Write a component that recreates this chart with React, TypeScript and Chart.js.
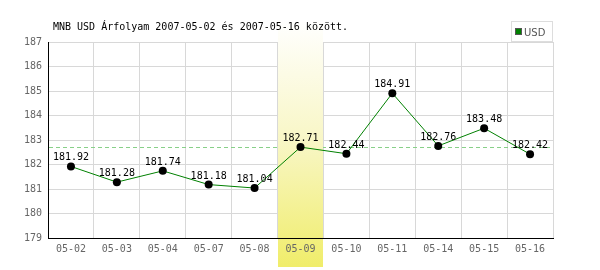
import React, { useEffect, useRef } from "react";
import { Chart, registerables } from "chart.js";

Chart.register(...registerables);

const categories = ["05-02", "05-03", "05-04", "05-07", "05-08", "05-09", "05-10", "05-11", "05-14", "05-15", "05-16"];
const usdValues = [181.92, 181.28, 181.74, 181.18, 181.04, 182.71, 182.44, 184.91, 182.76, 183.48, 182.42];
const highlightIndex = 5;
const yMin = 179;
const yMax = 187;
const titleText = "MNB USD Árfolyam 2007-05-02 és 2007-05-16 között.";
const seriesName = "USD";

const MONO = "'DejaVu Sans Mono', monospace";

const overlayPlugin = {
  id: "overlay",
  beforeDatasetsDraw(chart: any) {
    const { ctx, chartArea, scales } = chart;
    const x = scales.x;
    const y = scales.y;
    ctx.save();
    // reference dashed line
    const ry = Math.round(y.getPixelForValue(usdValues[highlightIndex])) + 0.5;
    ctx.strokeStyle = "#88d088";
    ctx.lineWidth = 1;
    ctx.setLineDash([4, 3]);
    ctx.beginPath();
    ctx.moveTo(chartArea.left + 1, ry);
    ctx.lineTo(chartArea.right, ry);
    ctx.stroke();
    ctx.setLineDash([]);
    // highlight band
    const cx = x.getPixelForValue(highlightIndex);
    const half = (chartArea.right - chartArea.left) / categories.length / 2;
    const x0 = Math.floor(cx - half) + 1;
    const x1 = Math.floor(cx + half);
    const top = 20;
    const bottom = 267;
    const g = ctx.createLinearGradient(0, top, 0, bottom);
    g.addColorStop(0, "#ffffff");
    g.addColorStop(0.5, "#f8f6c4");
    g.addColorStop(1, "#f0ed6a");
    ctx.fillStyle = g;
    ctx.fillRect(x0, top, x1 - x0, bottom - top);
    ctx.restore();
  },
  afterDatasetsDraw(chart: any) {
    const { ctx } = chart;
    const meta = chart.getDatasetMeta(0);
    ctx.save();
    ctx.font = "10px " + MONO;
    ctx.fillStyle = "#000000";
    ctx.textAlign = "center";
    ctx.textBaseline = "alphabetic";
    meta.data.forEach((pt: any, i: number) => {
      ctx.fillText(usdValues[i].toFixed(2), pt.x, pt.y - 6);
    });
    ctx.restore();
  },
  afterDraw(chart: any) {
    const { ctx } = chart;
    ctx.save();
    // title
    ctx.font = "10px " + MONO;
    ctx.fillStyle = "#000000";
    ctx.textAlign = "left";
    ctx.textBaseline = "alphabetic";
    ctx.fillText(titleText, 53, 30);
    // legend
    ctx.fillStyle = "#ffffff";
    ctx.fillRect(511, 21, 42, 20);
    ctx.strokeStyle = "#dddddd";
    ctx.lineWidth = 1;
    ctx.strokeRect(511.5, 21.5, 41, 20);
    ctx.fillStyle = "#008000";
    ctx.fillRect(516, 29, 5, 5);
    ctx.strokeStyle = "#555555";
    ctx.strokeRect(515.5, 28.5, 6, 6);
    ctx.fillStyle = "#555555";
    ctx.font = "10px 'DejaVu Sans', sans-serif";
    ctx.fillText(seriesName, 524, 36);
    ctx.restore();
  },
};

export default function App() {
  const ref = useRef<HTMLCanvasElement>(null);
  useEffect(() => {
    if (!ref.current) return;
    const chart = new Chart(ref.current, {
      type: "line",
      data: {
        labels: categories,
        datasets: [
          {
            label: seriesName,
            data: usdValues,
            borderColor: "#008000",
            borderWidth: 1,
            pointRadius: 4,
            pointBackgroundColor: "#000000",
            pointBorderColor: "#000000",
            pointBorderWidth: 0,
            tension: 0,
            fill: false,
          },
        ],
      },
      options: {
        responsive: false,
        animation: false,
        devicePixelRatio: 1,
        layout: { padding: { top: 42, right: 47, left: 0, bottom: 0 } },
        plugins: {
          legend: { display: false },
          title: { display: false },
          tooltip: { enabled: false },
        },
        scales: {
          x: {
            offset: true,
            afterFit: (s: any) => {
              s.height = 32;
            },
            grid: { offset: true, color: "#d8d8d8", lineWidth: 1, drawTicks: false },
            border: { display: true, color: "#000000", width: 1, z: 1 },
            ticks: {
              z: 1,
              padding: 5,
              color: "#666666",
              font: { family: MONO, size: 10 },
              maxRotation: 0,
              autoSkip: false,
            },
          },
          y: {
            min: yMin,
            max: yMax,
            afterFit: (s: any) => {
              s.width = 48;
            },
            grid: { color: "#d8d8d8", lineWidth: 1, drawTicks: false },
            border: { display: true, color: "#000000", width: 1 },
            ticks: {
              stepSize: 1,
              padding: 6,
              color: "#666666",
              font: { family: MONO, size: 10 },
            },
          },
        },
      },
      plugins: [overlayPlugin],
    });
    return () => chart.destroy();
  }, []);
  return (
    <canvas
      ref={ref}
      width={600}
      height={270}
      style={{ position: "fixed", left: 0, top: 0, width: 600, height: 270 }}
    />
  );
}
